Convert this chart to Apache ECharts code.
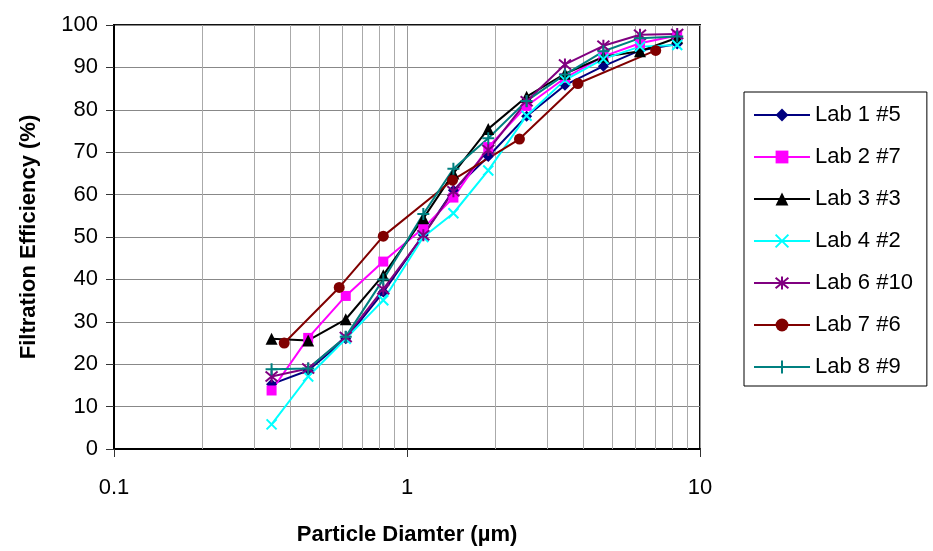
<!DOCTYPE html>
<html>
<head>
<meta charset="utf-8">
<title>Filtration Efficiency by Particle Diameter</title>
<script src="https://cdn.jsdelivr.net/npm/echarts@6/dist/echarts.min.js"></script>
<style>
  html, body { margin: 0; padding: 0; background: #fff; }
  #chart { width: 933px; height: 551px; }
</style>
</head>
<body>
<div id="chart"></div>
<script>
// Particle diameters (µm) shared by most labs
const diameters = [0.345, 0.46, 0.618, 0.83, 1.137, 1.44, 1.894, 2.56, 3.46, 4.68, 6.24, 8.36];
// Lab 7 measured on its own size channels
const diametersLab7 = [0.381, 0.587, 0.83, 1.43, 2.42, 3.83, 7.06];

const lab1 = [15.3, 18.5, 26.0, 37.0, 50.5, 61.0, 69.0, 78.5, 85.8, 90.3, 94.0, 95.5];
const lab2 = [13.8, 26.2, 36.1, 44.2, 52.1, 59.3, 71.2, 80.9, 87.5, 92.6, 95.7, 97.5];
const lab3 = [26.0, 25.6, 30.6, 41.0, 54.4, 65.0, 75.5, 83.1, 88.5, 92.5, 93.8, 97.0];
const lab4 = [5.8, 17.1, 26.0, 35.1, 50.0, 55.6, 65.7, 78.6, 87.0, 92.0, 94.9, 95.3];
const lab6 = [17.1, 19.0, 26.4, 37.7, 50.4, 60.8, 70.5, 82.0, 90.7, 95.1, 97.7, 97.9];
const lab7 = [25.0, 38.1, 50.2, 63.4, 73.1, 86.2, 94.0];
const lab8 = [18.8, 19.0, 26.5, 40.0, 55.4, 66.1, 73.3, 82.1, 88.3, 93.8, 96.9, 97.3];

// Axis ranges and gridline positions
const xMin = 0.1, xMax = 10;
const yMin = 0, yMax = 100, yStep = 10;
const minorGridValues = [0.2, 0.3, 0.4, 0.5, 0.6, 0.7, 0.8, 0.9, 2, 3, 4, 5, 6, 7, 8, 9];

const seriesNames = ['Lab 1 #5', 'Lab 2 #7', 'Lab 3 #3', 'Lab 4 #2', 'Lab 6 #10', 'Lab 7 #6', 'Lab 8 #9'];

const FONT = "'Liberation Sans', Arial, sans-serif";

function pair(xs, ys) { return xs.map((x, i) => [x, ys[i]]); }

function lab(name, xs, ys, color, symbol, size, strokeOnly) {
  return {
    name: name,
    type: 'line',
    data: pair(xs, ys),
    symbol: symbol,
    symbolSize: size,
    showSymbol: true,
    z: 3,
    lineStyle: { color: color, width: 2 },
    itemStyle: strokeOnly
      ? { color: 'rgba(0,0,0,0)', borderColor: color, borderWidth: 2 }
      : { color: color, borderWidth: 0 },
    emphasis: { disabled: true },
    animation: false
  };
}

const chart = echarts.init(document.getElementById('chart'), null, { renderer: 'canvas' });

chart.setOption({
  backgroundColor: '#ffffff',
  animation: false,
  grid: {
    left: 114, right: 233, top: 25, bottom: 98,
    show: true, borderColor: '#111', borderWidth: 2, backgroundColor: '#fff'
  },
  legend: {
    orient: 'vertical',
    left: 744, top: 92,
    data: seriesNames,
    itemWidth: 56, itemHeight: 16, itemGap: 20,
    padding: [12, 14, 8, 9],
    borderColor: '#000', borderWidth: 1,
    textStyle: { fontFamily: FONT, fontSize: 22, color: '#000', lineHeight: 22 },
    selectedMode: false
  },
  xAxis: {
    type: 'log', logBase: 10, min: xMin, max: xMax,
    name: 'Particle Diamter (µm)',
    nameLocation: 'middle', nameGap: 75,
    nameTextStyle: { fontFamily: FONT, fontSize: 22, fontWeight: 'bold', color: '#000' },
    axisLine: { onZero: false, lineStyle: { color: '#000', width: 2 } },
    axisTick: { show: true, length: 8, lineStyle: { color: '#333', width: 1 } },
    axisLabel: { fontFamily: FONT, fontSize: 22, color: '#000', margin: 28 },
    splitLine: { show: true, lineStyle: { color: '#999', width: 1 } }
  },
  yAxis: {
    type: 'value', min: yMin, max: yMax, interval: yStep,
    name: 'Filtration Efficiency (%)',
    nameLocation: 'middle', nameGap: 74, nameRotate: 90,
    nameTextStyle: { fontFamily: FONT, fontSize: 22, fontWeight: 'bold', color: '#000' },
    axisLine: { show: true, lineStyle: { color: '#000', width: 2 } },
    axisTick: { show: true, length: 8, lineStyle: { color: '#333', width: 1 } },
    axisLabel: { fontFamily: FONT, fontSize: 22, color: '#000', margin: 16 },
    splitLine: { show: true, lineStyle: { color: '#888', width: 1 } }
  },
  series: [
    {
      // minor vertical gridlines of the log axis (2..9 in each decade)
      type: 'custom',
      z: 1,
      silent: true,
      data: minorGridValues.map(v => [v, yMin]),
      renderItem: function (params, api) {
        const v = api.value(0);
        const p0 = api.coord([v, yMin]);
        const p1 = api.coord([v, yMax]);
        return {
          type: 'line',
          shape: { x1: Math.round(p0[0]) + 0.5, y1: p0[1], x2: Math.round(p1[0]) + 0.5, y2: p1[1] },
          style: { stroke: '#aaa', lineWidth: 1 }
        };
      },
      animation: false
    },
    lab('Lab 1 #5', diameters, lab1, '#000080', 'diamond', 11, false),
    lab('Lab 2 #7', diameters, lab2, '#FF00FF', 'rect', 10, false),
    lab('Lab 3 #3', diameters, lab3, '#000000', 'triangle', 12, false),
    lab('Lab 4 #2', diameters, lab4, '#00FFFF', 'path://M0,0L10,10M10,0L0,10', 10, true),
    lab('Lab 6 #10', diameters, lab6, '#800080', 'path://M0,0L10,10M10,0L0,10M5,-1L5,11', 12, true),
    lab('Lab 7 #6', diametersLab7, lab7, '#800000', 'circle', 11, false),
    lab('Lab 8 #9', diameters, lab8, '#008080', 'path://M5,0L5,10M0,5L10,5', 12, true)
  ]
});
</script>
</body>
</html>
